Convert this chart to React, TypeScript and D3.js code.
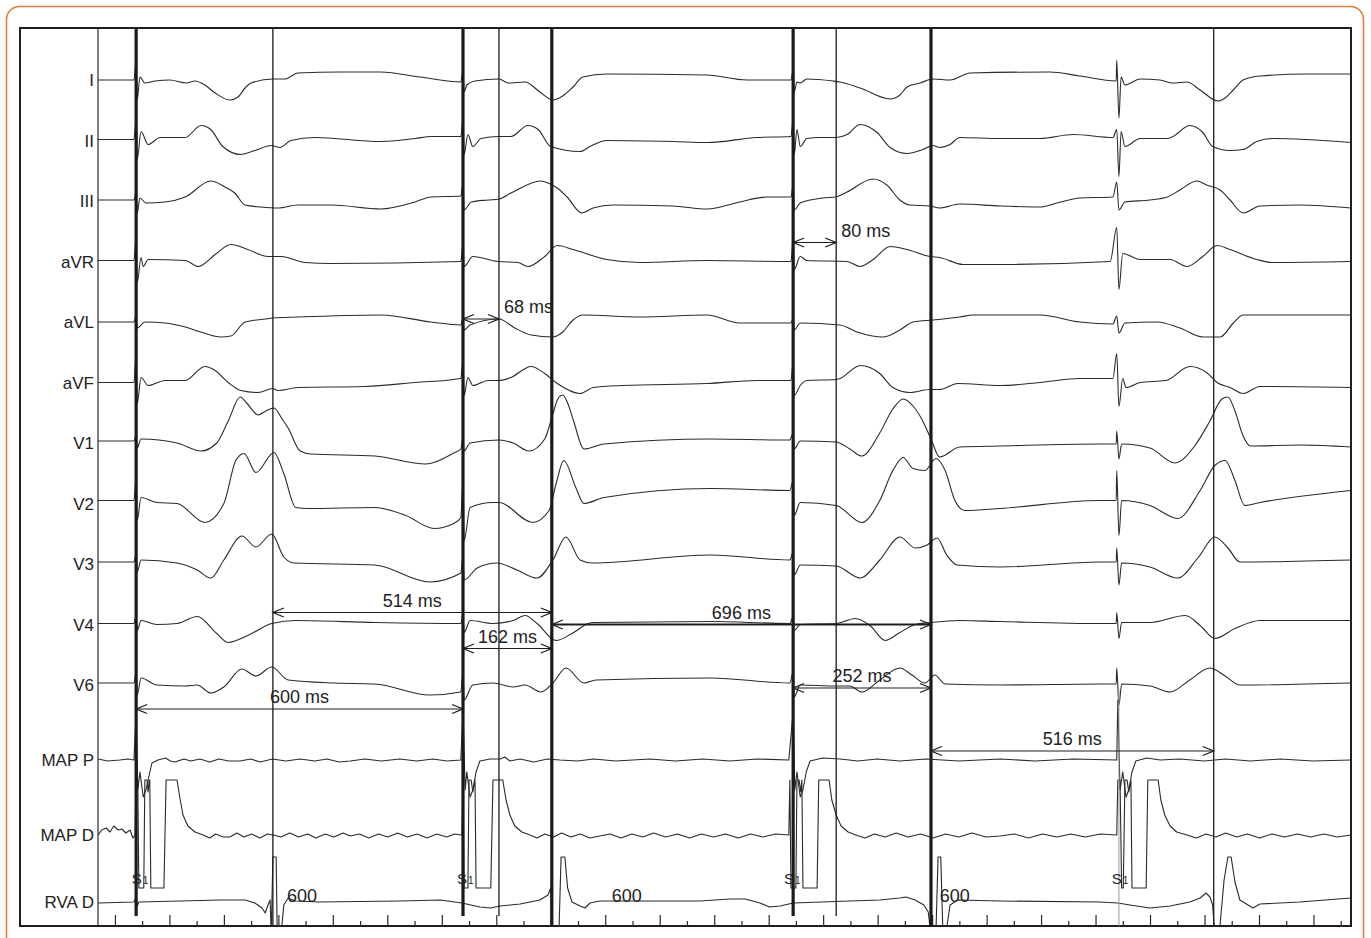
import React, { useEffect, useRef } from "react";
import * as d3 from "d3";

type Pt = [number, number];

// rows, top to bottom
const ecgLeads = ["I", "II", "III", "aVR", "aVL", "aVF", "V1", "V2", "V3", "V4", "V6"];
const icLeads = ["MAP P", "MAP D", "RVA D"];

// traces: [time (ms), amplitude (1 unit ~ 0.1 mV)]
const leadI: Pt[] = [[0,0],[66,0],[70,2],[72,-2],[77,0.3],[86,-0.3],[105,-0.1],[132,0],[162,-0.3],[178,-0.1],[196,-0.5],[215,-1.3],[242,-2],[257,-1.7],[270,-0.8],[281,-0.3],[321,0.1],[343,0.1],[367,0.7],[444,0.8],[519,0.8],[591,0.3],[666,-0.2],[670,1],[672,-1.2],[677,-0.5],[692,-0.1],[736,0.1],[753,-0.3],[784,-0.2],[811,-1.2],[835,-2],[853,-1.6],[872,-0.7],[890,0.3],[934,0.6],[1118,0.5],[1191,0],[1272,0],[1276,1],[1278,-1.2],[1283,-0.2],[1289,-0.3],[1301,0.1],[1349,-0.1],[1362,-0.2],[1399,-0.8],[1454,-1.9],[1472,-1.5],[1485,-0.7],[1509,-0.3],[1533,0.1],[1564,0],[1601,0.7],[1747,0.8],[1802,0.4],[1869,-0.1],[1870,2],[1874,-3.8],[1878,0.3],[1885,-0.5],[1913,0.1],[1949,0],[1973,-0.3],[1999,-0.2],[2023,-1],[2056,-2.1],[2069,-1.8],[2084,-1],[2102,0],[2133,0.4],[2219,0.6],[2300,0.6]];
const leadII: Pt[] = [[0,0.1],[66,0.1],[70,2.1],[72,-1.9],[79,0.9],[92,-0.4],[114,0.3],[160,0.3],[189,1.5],[207,1.1],[229,-0.6],[262,-1.4],[288,-1],[318,-0.5],[334,-0.7],[354,0],[398,0.3],[519,-0.1],[582,0.2],[611,0.4],[666,0.4],[670,2.1],[672,-1.4],[679,0.6],[688,-0.6],[703,0.2],[736,0.4],[758,0.4],[789,1.5],[808,1.1],[831,-0.6],[885,-1.1],[903,-0.6],[934,0],[1055,-0.1],[1118,-0.2],[1210,0.3],[1272,0.4],[1276,2.1],[1278,-1.4],[1283,1.1],[1289,-0.6],[1301,0.2],[1325,0.3],[1355,0.3],[1375,0.6],[1399,1.6],[1430,0.8],[1454,-0.7],[1485,-1.3],[1514,-0.9],[1533,-0.5],[1545,-0.7],[1564,-0.4],[1582,0.3],[1656,0.2],[1729,0.2],[1790,0.6],[1863,0.3],[1870,1.1],[1874,-3.6],[1878,0.9],[1885,-0.6],[1913,0.2],[1963,0.2],[1973,0.4],[2004,1.5],[2028,0.8],[2046,-0.6],[2078,-1],[2102,-0.9],[2127,-0.1],[2156,0.2],[2300,-0.2]];
const leadIII: Pt[] = [[0,0.1],[66,0.1],[70,0.9],[72,-1.2],[77,0.3],[88,-0.2],[123,-0.1],[160,0.4],[207,2],[233,1.4],[251,0.8],[270,-0.4],[299,-0.6],[330,-0.7],[367,-0.4],[428,-0.4],[519,-0.8],[582,-0.1],[611,0.4],[666,0.5],[670,1.8],[672,-0.9],[685,-0.1],[716,0.1],[736,0.2],[758,0.8],[813,2],[830,1.7],[843,1.3],[861,0.4],[888,-1.2],[909,-0.7],[945,-0.4],[1055,-0.5],[1118,-0.8],[1178,-0.1],[1228,0.4],[1272,0.4],[1276,1.6],[1278,-0.9],[1289,-0.2],[1331,0.3],[1355,0.4],[1375,0.9],[1423,2.2],[1448,1.6],[1472,0.1],[1490,-0.4],[1527,-0.5],[1545,-0.7],[1582,-0.3],[1656,-0.5],[1729,-0.6],[1760,-0.2],[1802,0.3],[1863,0.4],[1870,1.9],[1874,-0.9],[1885,-0.1],[1931,0.1],[1963,0.4],[1986,1.1],[2017,2],[2035,1.6],[2060,1.1],[2078,0.1],[2102,-1.2],[2133,-0.5],[2206,-0.4],[2300,-0.7]];
const leadAVR: Pt[] = [[0,0.1],[66,0.1],[70,2.5],[72,-2.1],[79,0.4],[83,-0.5],[92,0.2],[160,0.1],[184,-0.5],[215,0.7],[244,1.7],[275,1.2],[312,0.5],[336,0.5],[380,-0.1],[428,-0.2],[666,0],[670,1.9],[672,-0.5],[688,0.5],[734,0],[771,-0.1],[789,-0.5],[820,0.5],[843,1.6],[872,1.2],[934,0.2],[995,-0.1],[1118,0.1],[1272,0],[1276,2.2],[1278,-0.8],[1289,0.5],[1301,0.1],[1375,0],[1399,-0.5],[1423,0.2],[1454,1.5],[1485,1.2],[1527,0.5],[1545,0.4],[1588,-0.3],[1637,-0.3],[1858,0],[1870,3.4],[1874,-2.8],[1881,0.8],[1913,0.2],[1968,0.2],[1999,-0.5],[2028,0.5],[2054,1.6],[2078,1.2],[2127,0.2],[2156,-0.1],[2300,0]];
const leadAVL: Pt[] = [[0,0],[66,0],[70,0.7],[72,-0.6],[86,0],[123,-0.1],[160,-0.5],[189,-1],[226,-1.5],[244,-1.4],[270,0],[307,0.3],[321,0.4],[367,0.5],[519,0.7],[611,0],[666,-0.3],[670,0.4],[672,-0.8],[683,-0.3],[736,0.3],[765,-0.6],[795,-1.3],[835,-1.5],[853,-1],[872,0.2],[890,0.7],[995,0.5],[1118,0.7],[1178,-0.1],[1272,-0.1],[1276,0.4],[1278,-0.8],[1289,-0.1],[1362,-0.3],[1393,-1],[1441,-1.5],[1472,-0.8],[1496,0],[1533,0.2],[1582,0.5],[1606,0.7],[1729,0.7],[1802,0],[1863,-0.2],[1870,0.6],[1874,-1.1],[1885,-0.1],[1944,0],[1986,-0.6],[2028,-1.5],[2060,-1.5],[2084,-0.1],[2102,0.7],[2300,0.7]];
const leadAVF: Pt[] = [[0,0],[66,0],[70,2.9],[72,-2.1],[79,0.5],[92,-0.3],[123,0.2],[160,0.2],[196,1.6],[215,1.2],[239,0],[262,-0.8],[294,-1],[321,-0.6],[330,-0.8],[367,-0.5],[490,-0.4],[582,0],[666,0.4],[670,2.2],[672,-1.3],[679,0.5],[688,-0.3],[716,0.2],[736,0.2],[758,0.5],[795,1.6],[820,0.9],[843,-0.1],[885,-1.1],[909,-0.5],[964,-0.3],[1118,-0.1],[1210,0.2],[1272,0.2],[1276,2],[1278,-1.3],[1289,-0.3],[1301,0.2],[1355,0.3],[1362,0.4],[1399,1.7],[1435,0.9],[1459,-0.5],[1490,-1],[1527,-0.7],[1545,-0.7],[1578,-0.1],[1656,-0.3],[1729,0],[1802,0.4],[1863,0.4],[1870,2.9],[1874,-2.4],[1881,0.4],[1887,-0.5],[1913,0],[1960,0.2],[2004,1.6],[2035,1],[2054,0],[2078,-0.5],[2102,-1.1],[2133,-0.4],[2300,-0.5]];
const leadV1: Pt[] = [[0,0.2],[66,0.2],[70,0.8],[72,-0.5],[79,0.4],[145,0],[189,-0.8],[218,0],[239,2.2],[261,4.6],[273,4],[294,2.8],[308,3.2],[323,3.5],[338,2.4],[349,1.5],[371,-0.8],[391,-1.1],[508,-1.3],[602,-2.1],[653,-1],[666,-0.6],[670,0.6],[672,-0.8],[683,0],[736,0.3],[762,0],[791,-0.8],[820,0.4],[835,2.9],[844,4.4],[853,4.8],[862,4],[873,2.2],[892,-0.6],[929,-0.1],[1125,0.4],[1270,0.3],[1276,1],[1278,-0.6],[1289,0.2],[1355,0.1],[1380,-0.6],[1402,-1.3],[1435,1],[1459,3.4],[1478,4.4],[1496,3.7],[1512,2.4],[1529,0.4],[1545,-1.4],[1582,-0.4],[1656,-0.3],[1839,-0.1],[1869,-0.1],[1870,1.2],[1874,-1.6],[1879,-0.1],[1931,-0.5],[1977,-2],[2013,-0.3],[2041,2.2],[2063,4.4],[2074,4.6],[2087,3.2],[2102,0.7],[2115,-0.3],[2206,-0.2],[2300,-0.4]];
const leadV2: Pt[] = [[0,0.3],[66,0.3],[70,2.6],[72,-1.7],[79,0.6],[108,0.1],[145,0],[196,-1.9],[231,0],[253,4.3],[268,5],[290,3.1],[323,5.1],[341,3],[363,-0.4],[384,-0.5],[508,-0.4],[565,-1.2],[617,-2.5],[653,-2],[666,-1.4],[670,2.3],[672,-3.7],[683,-0.4],[725,0.1],[736,0.1],[798,-1.9],[828,-0.7],[841,2],[855,4.3],[877,1.6],[892,0],[929,0.6],[1125,1.5],[1270,1.3],[1276,2.3],[1278,-1.2],[1289,0.1],[1355,-0.2],[1402,-1.9],[1435,0.3],[1459,3.3],[1478,4.6],[1496,3.5],[1518,3.3],[1538,4.5],[1555,3.3],[1573,0.3],[1591,-0.7],[1656,-0.5],[1839,0.3],[1869,0.3],[1870,3.3],[1874,-3.2],[1879,0.3],[1931,-0.2],[1982,-1.5],[2023,1.3],[2050,3.8],[2069,4.3],[2087,2.3],[2105,-0.2],[2133,0.1],[2300,1.3]];
const leadV3: Pt[] = [[0,0.2],[66,0.2],[70,1.1],[72,-0.8],[79,0.4],[145,0.1],[182,-0.6],[207,-1.4],[231,0.4],[264,2.8],[290,1.7],[319,3],[341,0.7],[360,0.1],[508,-0.1],[609,-1.8],[666,-0.9],[670,0.9],[672,-1.6],[696,-0.4],[732,0.1],[769,-0.6],[806,-1.4],[835,0.4],[859,2.7],[885,0.4],[907,0.1],[1125,0.9],[1270,0.4],[1276,1.2],[1278,-1.1],[1289,-0.1],[1355,-0.2],[1399,-1.4],[1435,0.4],[1472,2.7],[1500,1.6],[1522,1.9],[1540,2.6],[1558,0.9],[1577,-0.1],[1656,-0.3],[1839,0.2],[1869,0.2],[1870,1.6],[1874,-2.1],[1879,0.1],[1931,-0.3],[1982,-1.4],[2019,0.6],[2050,2.7],[2074,1.6],[2096,0.2],[2300,0.4]];
const leadV4: Pt[] = [[0,0.1],[66,0.1],[70,0.9],[72,-0.6],[79,0.4],[108,0],[145,0.1],[182,0.8],[218,-0.9],[239,-1.8],[275,-1.1],[319,0.1],[363,0.4],[508,0.2],[666,0.1],[670,1],[672,-0.8],[683,0.4],[725,0.1],[762,0.4],[784,0.9],[806,0.1],[841,-1.6],[870,-0.9],[907,0.2],[1125,0.3],[1270,0.1],[1276,0.8],[1278,-0.6],[1289,0],[1355,0.1],[1390,0.6],[1417,-0.1],[1445,-1.6],[1472,-0.8],[1500,0],[1529,0.2],[1582,0.4],[1656,0.3],[1839,0.1],[1869,0.1],[1870,1.2],[1874,-1.4],[1879,0.2],[1931,0.2],[1996,0.9],[2023,-0.1],[2050,-1.4],[2087,-0.4],[2133,0.4],[2300,0.4]];
const leadV6: Pt[] = [[0,0.2],[66,0.2],[70,1.3],[72,-1],[79,0.7],[108,0],[160,-0.1],[182,0],[207,-0.8],[231,-0.2],[264,1.6],[290,0.9],[319,1.8],[349,0.5],[435,0.2],[508,0.1],[609,-1],[666,-0.7],[670,1.3],[672,-1.5],[688,0],[725,0.2],[762,-0.2],[784,0],[813,-0.7],[835,0.2],[859,1.7],[892,0.2],[914,0.5],[1125,0.7],[1270,0.2],[1276,1.3],[1278,-1.2],[1289,0],[1355,-0.1],[1380,-0.1],[1402,-0.7],[1435,0.5],[1472,1.7],[1494,1],[1518,0.2],[1536,1],[1555,0.1],[1656,0],[1839,0.1],[1869,0.1],[1870,1.7],[1874,-2],[1879,0.1],[1931,-0.1],[1968,-0.7],[2004,0.5],[2041,1.7],[2069,0.9],[2096,0],[2300,0.2]];
const mapP: Pt[] = [[0,0.1],[18,-0.1],[40,0],[55,0.1],[66,0],[70,4.8],[73,-3],[77,-1.2],[83,-3.7],[88,-3],[94,-1.5],[99,-0.3],[110,0],[124,0.2],[133,-0.1],[141,-0.2],[158,0.1],[170,-0.1],[187,0.1],[205,-0.2],[222,0.1],[240,-0.1],[261,-0.1],[280,0.1],[298,-0.2],[320,0.1],[345,-0.1],[371,0.1],[398,-0.1],[420,0.1],[443,-0.2],[463,-0.1],[490,0.1],[520,-0.1],[554,0.1],[585,-0.1],[615,0.1],[640,-0.1],[666,0],[670,4.8],[674,-3],[677,-1.2],[683,-3.7],[688,-3],[694,-1.2],[701,-0.1],[720,0.1],[738,0.1],[747,0.3],[756,-0.1],[775,0.1],[800,-0.2],[825,0.1],[848,0],[880,-0.1],[910,0.1],[950,-0.1],[1013,0.1],[1060,-0.1],[1110,0.1],[1160,-0.1],[1210,0.1],[1268,0],[1276,4.8],[1279,-3],[1283,-1.2],[1289,-3.7],[1294,-3],[1300,-1.2],[1307,-0.1],[1330,0.2],[1362,0.1],[1395,-0.1],[1430,0.1],[1472,-0.1],[1520,0.1],[1580,-0.1],[1656,0.1],[1720,-0.1],[1790,0.1],[1870,0],[1872,6],[1876,-3],[1881,-1.2],[1887,-3.7],[1892,-3],[1898,-1.2],[1905,-0.1],[1925,0.2],[1950,0],[1986,0.1],[2030,-0.1],[2070,0.1],[2115,-0.1],[2170,0.1],[2230,-0.1],[2300,0]];
const mapD: Pt[] = [[0,0],[7,0.5],[15,0.7],[22,0.3],[29,0.9],[37,0.5],[44,0.6],[51,0.2],[59,0.5],[64,-0.3],[68,0],[70,5.5],[73,5.5],[75,-5.3],[84,-5.3],[86,5.5],[90,5.5],[92,4.3],[94,5.5],[95,5.5],[97,-5.3],[121,-5.3],[125,5.5],[145,5.5],[151,3.5],[156,2],[165,0.9],[178,0.3],[193,0],[205,-0.3],[216,0.1],[230,-0.2],[242,-0.2],[255,0.2],[268,-0.2],[282,0.1],[297,-0.3],[311,0.1],[321,0],[336,-0.2],[352,0.2],[368,-0.2],[385,0.1],[400,-0.3],[417,0.1],[433,-0.2],[450,0.2],[463,-0.1],[480,0.1],[497,-0.3],[515,0.1],[532,-0.2],[550,0.2],[568,-0.2],[586,0.1],[604,-0.3],[622,0.1],[640,-0.2],[655,0.1],[666,0],[668,0],[670,5.5],[672,-5.3],[679,-5.3],[681,5.5],[685,5.5],[688,4.3],[692,5.5],[694,-5.3],[721,-5.3],[725,5.5],[743,5.5],[749,3.5],[756,2],[765,0.9],[778,0.3],[793,0],[806,-0.3],[820,0.1],[836,-0.2],[851,0.2],[868,-0.2],[885,0.1],[903,-0.3],[921,-0.1],[940,0.1],[960,-0.3],[980,0.1],[1000,-0.2],[1020,0.2],[1042,-0.2],[1064,0.1],[1086,-0.3],[1108,0.1],[1130,-0.2],[1152,0.1],[1175,-0.3],[1198,0.1],[1220,-0.2],[1244,0.1],[1268,0],[1270,5.5],[1272,-5.3],[1281,-5.3],[1283,5.5],[1287,5.5],[1290,4.3],[1292,5.5],[1294,-5.3],[1320,-5.3],[1323,5.5],[1342,5.5],[1347,3.5],[1355,2],[1364,0.9],[1377,0.3],[1391,0],[1408,-0.3],[1425,0.1],[1445,-0.2],[1465,0.2],[1487,-0.2],[1510,0.1],[1533,-0.3],[1556,0.1],[1580,-0.2],[1604,0.2],[1630,-0.2],[1656,-0.1],[1682,0.1],[1708,-0.3],[1734,0.1],[1760,-0.2],[1786,0.1],[1812,-0.2],[1840,0.1],[1870,0],[1872,5.5],[1876,5.5],[1879,-5.3],[1882,-5.3],[1885,5.5],[1889,5.5],[1892,4.3],[1896,5.5],[1898,-5.3],[1924,-5.3],[1927,5.5],[1946,5.5],[1951,3.5],[1958,2],[1968,0.9],[1980,0.3],[1999,0],[2016,-0.3],[2034,0.1],[2052,-0.2],[2070,0.2],[2090,-0.2],[2110,0.1],[2132,-0.3],[2155,0.1],[2178,-0.2],[2202,0.1],[2226,-0.2],[2250,0.1],[2275,-0.2],[2300,0]];
const rvaD: Pt[] = [[0,-0.1],[66,0],[70,0.5],[72,-0.4],[75,0],[151,0.1],[224,0.2],[270,0.2],[288,-0.1],[301,-0.6],[307,-1.1],[312,-0.3],[316,0.2],[318,-3.3],[321,4.5],[327,4.5],[329,-3.3],[336,-3.3],[341,-0.3],[349,0.4],[362,0.1],[407,0],[554,0.1],[628,0.2],[668,-0.1],[701,-0.5],[720,-0.6],[738,-0.4],[775,-0.2],[811,0.2],[826,0.7],[831,1.4],[833,-3.3],[846,-3.3],[850,4.5],[857,4.5],[862,1.4],[870,0],[885,-0.4],[894,-0.6],[903,-0.1],[921,0.1],[1105,0.1],[1160,0.3],[1188,0.3],[1215,-0.1],[1233,-0.5],[1252,-0.4],[1276,-0.1],[1380,0.1],[1435,0.2],[1472,0.4],[1483,0.5],[1500,0.2],[1516,-0.3],[1524,-1],[1529,-3.3],[1538,-3.3],[1542,4.5],[1547,4.5],[1551,-3.3],[1556,-3.3],[1564,-0.3],[1578,0.2],[1656,0.1],[1839,0],[1872,-0.1],[1894,-0.3],[1931,-0.6],[1968,-0.4],[2004,0],[2023,0.4],[2034,0.9],[2041,0.5],[2046,-0.3],[2050,-3.3],[2058,-3.3],[2067,2.2],[2074,4.5],[2080,4.5],[2087,2],[2096,0.2],[2111,-0.3],[2120,-0.6],[2133,-0.2],[2206,0],[2300,0.4]];

const ecgTraces: Pt[][] = [leadI, leadII, leadIII, leadAVR, leadAVL, leadAVF, leadV1, leadV2, leadV3, leadV4, leadV6];
const icTraces: Pt[][] = [mapP, mapD, rvaD];

// event markers (ms)
const thickMarkers = [70, 670, 833, 1276, 1529];
const thinMarkers = [321, 736, 1355, 2048];
const stimTimes = [62, 659, 1259, 1861];
const rvaCycleTimes = [347, 943, 1545];
const rvaCycleLabel = "600";

// calipers: from, to, label
const calFrom = [670, 1276, 321, 833, 670, 1276, 70, 1529];
const calTo = [736, 1355, 833, 1529, 833, 1529, 670, 2048];
const calLabel = ["68 ms", "80 ms", "514 ms", "696 ms", "162 ms", "252 ms", "600 ms", "516 ms"];
// layout of calipers: row and vertical offset
const calRow = ["aVL", "aVR", "V4", "V4", "V4", "V6", "V6", "MAP P"];
const calDy = [-3, -19, -12, 0, 24, 3, 24, -9];

export default function App() {
    const ref = useRef<SVGSVGElement>(null);

    useEffect(() => {
        const svg = d3.select(ref.current);
        svg.selectAll("*").remove();

        const left = 98, right = 1351, top = 28, bottom = 926;
        const font = "'Liberation Sans', Arial, Helvetica, sans-serif";
        const ink = "#2a2a2a";

        const x = d3.scaleLinear().domain([0, 2300]).range([left, right]);
        const amp = d3.scaleLinear().domain([0, 1]).range([0, -10]);
        const ecgY = d3.scalePoint<string>().domain(ecgLeads).range([80, 685]);
        const icY = d3.scaleOrdinal<string, number>().domain(icLeads).range([760, 835, 902]);
        const rowY = (name: string) => (ecgLeads.includes(name) ? (ecgY(name) as number) : icY(name));

        // orange card border
        svg.append("rect")
            .attr("x", 6.5).attr("y", 6.5)
            .attr("width", 1357).attr("height", 950)
            .attr("rx", 13)
            .attr("fill", "none")
            .attr("stroke", "#e8793a")
            .attr("stroke-width", 1.6);

        svg.append("defs").append("clipPath").attr("id", "plot-clip")
            .append("rect").attr("x", left).attr("y", top).attr("width", right - left).attr("height", bottom - top);

        // frame
        svg.append("rect")
            .attr("x", 20).attr("y", top)
            .attr("width", right - 20).attr("height", bottom - top)
            .attr("fill", "none").attr("stroke", "#1e1e1e").attr("stroke-width", 2);
        svg.append("line")
            .attr("x1", left).attr("x2", left).attr("y1", top).attr("y2", bottom)
            .attr("stroke", ink).attr("stroke-width", 1.2);

        // bottom ticks, every 50 ms
        const ticks = d3.range(32, 2300, 50);
        svg.append("g").selectAll("line").data(ticks).join("line")
            .attr("x1", d => x(d)).attr("x2", d => x(d))
            .attr("y1", bottom)
            .attr("y2", (d, i) => bottom - (i % 2 === 0 ? 11 : 5))
            .attr("stroke", ink).attr("stroke-width", 1.2);

        // lead labels
        const labels = svg.append("g")
            .attr("font-family", font).attr("font-size", 17).attr("fill", "#222")
            .attr("text-anchor", "end");
        labels.selectAll("text").data([...ecgLeads, ...icLeads]).join("text")
            .attr("x", 94)
            .attr("y", d => rowY(d))
            .attr("dy", "0.36em")
            .text(d => d);

        // traces
        const plot = svg.append("g").attr("clip-path", "url(#plot-clip)");
        const ecgLine = d3.line<Pt>().x(d => x(d[0])).y(d => amp(d[1])).curve(d3.curveMonotoneX);
        const icLine = d3.line<Pt>().x(d => x(d[0])).y(d => amp(d[1])).curve(d3.curveLinear);

        ecgLeads.forEach((name, i) => {
            plot.append("path")
                .attr("transform", `translate(0,${rowY(name)})`)
                .attr("d", ecgLine(ecgTraces[i]))
                .attr("fill", "none").attr("stroke", ink).attr("stroke-width", 1.1)
                .attr("stroke-linejoin", "round");
        });
        icLeads.forEach((name, i) => {
            plot.append("path")
                .attr("transform", `translate(0,${rowY(name)})`)
                .attr("d", icLine(icTraces[i]))
                .attr("fill", "none").attr("stroke", ink).attr("stroke-width", 1.1)
                .attr("stroke-linejoin", "round");
        });

        // faint stimulus line of the last S1
        plot.append("line")
            .attr("x1", x(1874)).attr("x2", x(1874))
            .attr("y1", 690).attr("y2", bottom)
            .attr("stroke", "#9a9a9a").attr("stroke-width", 1);

        // marker lines
        plot.append("g").selectAll("line").data(thickMarkers).join("line")
            .attr("x1", d => x(d)).attr("x2", d => x(d))
            .attr("y1", top).attr("y2", d => (d === 833 || d === 1529 ? bottom : bottom - 10))
            .attr("stroke", "#1a1a1a").attr("stroke-width", 3.2);
        plot.append("g").selectAll("line").data(thinMarkers).join("line")
            .attr("x1", d => x(d)).attr("x2", d => x(d))
            .attr("y1", top).attr("y2", d => (d === 736 || d === 1355 ? bottom - 10 : bottom))
            .attr("stroke", "#1a1a1a").attr("stroke-width", 1.3);

        // S1 labels
        const s1 = svg.append("g").attr("font-family", font).attr("fill", "#222");
        stimTimes.forEach(t => {
            const tx = s1.append("text").attr("x", x(t)).attr("y", 884).attr("font-size", 15);
            tx.append("tspan").text("S");
            tx.append("tspan").attr("font-size", 10).attr("dx", 1).text("1");
        });

        // RVA cycle length labels
        svg.append("g").selectAll("text").data(rvaCycleTimes).join("text")
            .attr("x", d => x(d)).attr("y", 902)
            .attr("font-family", font).attr("font-size", 18).attr("fill", "#222")
            .text(rvaCycleLabel);

        // calipers
        const cal = svg.append("g");
        calLabel.forEach((label, i) => {
            const x0 = x(calFrom[i]), x1 = x(calTo[i]);
            const y = rowY(calRow[i]) + calDy[i];
            const bold = label === "696 ms";
            const side = i < 2;
            cal.append("line")
                .attr("x1", x0).attr("x2", x1).attr("y1", y).attr("y2", y)
                .attr("stroke", "#1e1e1e").attr("stroke-width", bold ? 2 : 1.2);
            const head = 11, half = 4.5;
            cal.append("path")
                .attr("d", `M${x0 + head},${y - half}L${x0},${y}L${x0 + head},${y + half}M${x1 - head},${y - half}L${x1},${y}L${x1 - head},${y + half}`)
                .attr("fill", "none").attr("stroke", "#1e1e1e").attr("stroke-width", 1.3);
            cal.append("text")
                .attr("x", side ? x1 + 5 : (x0 + x1) / 2)
                .attr("y", y - 6)
                .attr("text-anchor", side ? "start" : "middle")
                .attr("font-family", font).attr("font-size", 18).attr("fill", "#222")
                .text(label);
        });
    }, []);

    return (
        <svg ref={ref} width={1371} height={938}
            style={{ position: "absolute", left: 0, top: 0, display: "block", background: "#fff" }} />
    );
}
